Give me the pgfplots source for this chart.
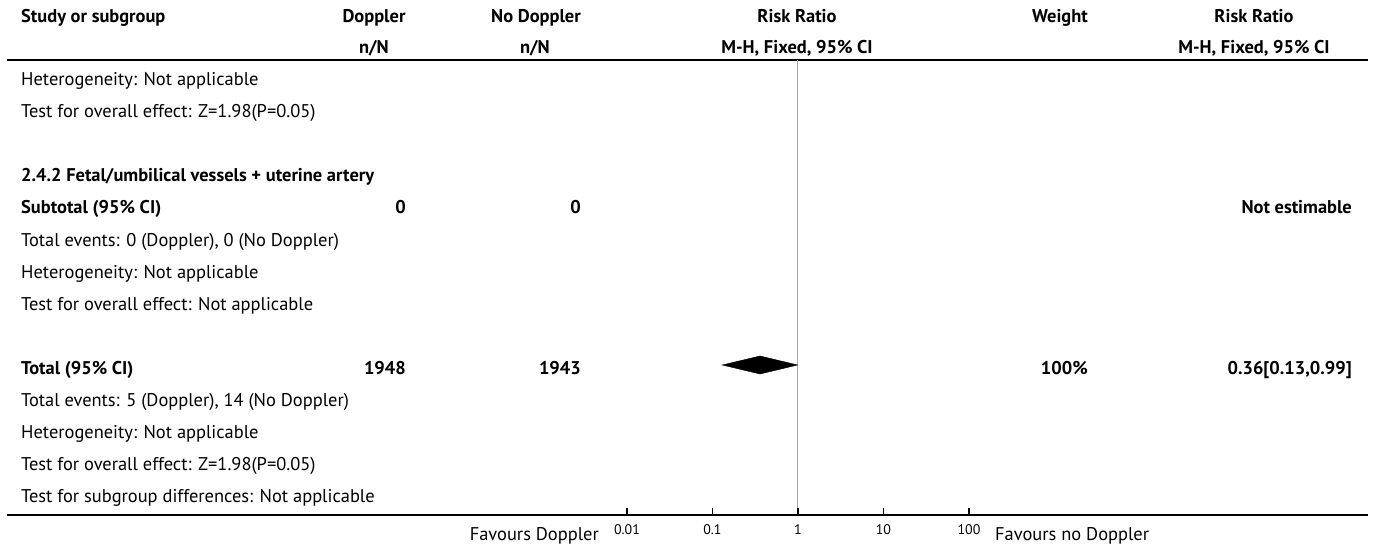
\documentclass[border=0pt]{standalone}
\usepackage{fontspec}
\setmainfont{PT Sans}
\usepackage{pgfplots}
\pgfplotsset{compat=1.18}
\newcommand\fs{\fontsize{18.5}{20}\selectfont}
\newcommand\fb{\fontsize{18.5}{20}\selectfont\bfseries}
\begin{document}
\begin{tikzpicture}
% table layer: coordinates are pixels of the reference (y downward as negative)
\begin{axis}[at={(0,0)}, anchor=north west, width=1375bp, height=548bp, scale only axis,
  xmin=0, xmax=1375, ymin=-548, ymax=0, hide axis, clip=false]
  \path (axis cs:0,0) rectangle (axis cs:1375,-548);
  % header
  \node[anchor=base west,font=\fb,inner sep=0pt] at (axis cs:21,-23) {Study or subgroup};
  \node[anchor=base,font=\fb,inner sep=0pt] at (axis cs:374,-23) {Doppler};
  \node[anchor=base,font=\fb,inner sep=0pt] at (axis cs:374,-54) {n/N};
  \node[anchor=base,font=\fb,inner sep=0pt] at (axis cs:536,-23) {No Doppler};
  \node[anchor=base,font=\fb,inner sep=0pt] at (axis cs:535,-54) {n/N};
  \node[anchor=base,font=\fb,inner sep=0pt] at (axis cs:797,-23) {Risk Ratio};
  \node[anchor=base,font=\fb,inner sep=0pt] at (axis cs:797,-54) {M-H, Fixed, 95\% CI};
  \node[anchor=base,font=\fb,inner sep=0pt] at (axis cs:1060,-23) {Weight};
  \node[anchor=base,font=\fb,inner sep=0pt] at (axis cs:1254,-23) {Risk Ratio};
  \node[anchor=base,font=\fb,inner sep=0pt] at (axis cs:1254,-54) {M-H, Fixed, 95\% CI};
  \draw[line width=1.3bp] (axis cs:7,-60) -- (axis cs:1368,-60);
  \draw[line width=1.3bp] (axis cs:7,-515) -- (axis cs:1368,-515);
  % body
  \node[anchor=base west,font=\fs,inner sep=0pt] at (axis cs:21,-86) {Heterogeneity: Not applicable};
  \node[anchor=base west,font=\fs,inner sep=0pt] at (axis cs:21,-118) {Test for overall effect: Z=1.98(P=0.05)};
  \node[anchor=base west,font=\fb,inner sep=0pt] at (axis cs:21,-182) {2.4.2 Fetal/umbilical vessels + uterine artery};
  \node[anchor=base west,font=\fb,inner sep=0pt] at (axis cs:21,-214) {Subtotal (95\% CI)};
  \node[anchor=base east,font=\fb,inner sep=0pt] at (axis cs:406,-214) {0};
  \node[anchor=base east,font=\fb,inner sep=0pt] at (axis cs:581,-214) {0};
  \node[anchor=base east,font=\fb,inner sep=0pt] at (axis cs:1352,-214) {Not estimable};
  \node[anchor=base west,font=\fs,inner sep=0pt] at (axis cs:21,-246) {Total events: 0 (Doppler), 0 (No Doppler)};
  \node[anchor=base west,font=\fs,inner sep=0pt] at (axis cs:21,-278) {Heterogeneity: Not applicable};
  \node[anchor=base west,font=\fs,inner sep=0pt] at (axis cs:21,-310) {Test for overall effect: Not applicable};
  \node[anchor=base west,font=\fb,inner sep=0pt] at (axis cs:21,-374) {Total (95\% CI)};
  \node[anchor=base east,font=\fb,inner sep=0pt] at (axis cs:406,-374) {1948};
  \node[anchor=base east,font=\fb,inner sep=0pt] at (axis cs:581,-374) {1943};
  \node[anchor=base east,font=\fb,inner sep=0pt] at (axis cs:1088,-374) {100\%};
  \node[anchor=base east,font=\fb,inner sep=0pt] at (axis cs:1352,-374) {0.36[0.13,0.99]};
  \node[anchor=base west,font=\fs,inner sep=0pt] at (axis cs:21,-406) {Total events: 5 (Doppler), 14 (No Doppler)};
  \node[anchor=base west,font=\fs,inner sep=0pt] at (axis cs:21,-438) {Heterogeneity: Not applicable};
  \node[anchor=base west,font=\fs,inner sep=0pt] at (axis cs:21,-470) {Test for overall effect: Z=1.98(P=0.05)};
  \node[anchor=base west,font=\fs,inner sep=0pt] at (axis cs:21,-502) {Test for subgroup differences: Not applicable};
  \node[anchor=base east,font=\fs,inner sep=0pt] at (axis cs:599,-540) {Favours Doppler};
  \node[anchor=base west,font=\fs,inner sep=0pt] at (axis cs:995,-540) {Favours no Doppler};
\end{axis}
% forest plot axis
\begin{axis}[at={(616bp,-60bp)}, anchor=north west, width=363bp, height=455bp, scale only axis,
  xmode=log, xmin=0.00744, xmax=130.9, ymin=-515, ymax=-60,
  axis x line*=bottom, axis y line=none, clip=false,
  xtick={0.01,0.1,1,10,100}, xticklabels={0.01,0.1,1,10,100},
  xminorticks=false, major tick length=0pt,
  axis line style={line width=1.3bp, -},
  xticklabel style={anchor=base, inner sep=0pt, yshift=-19bp, font=\fontsize{14}{15}\selectfont}]
  \addplot[gray!70, line width=1bp] coordinates {(1,-60) (1,-515)};
  \addplot[black, fill=black] coordinates {(0.13,-365) (0.36,-356) (0.99,-365) (0.36,-374)} -- cycle;
  % tick marks on the scale, drawn as short vertical segments
  \addplot[black, line width=1.2bp] coordinates {(0.01,-515) (0.01,-508)};
  \addplot[black, line width=1.2bp] coordinates {(0.1,-515) (0.1,-508)};
  \addplot[black, line width=1.2bp] coordinates {(1,-515) (1,-508)};
  \addplot[black, line width=1.2bp] coordinates {(10,-515) (10,-508)};
  \addplot[black, line width=1.2bp] coordinates {(100,-515) (100,-508)};
\end{axis}
\end{tikzpicture}
\end{document}
